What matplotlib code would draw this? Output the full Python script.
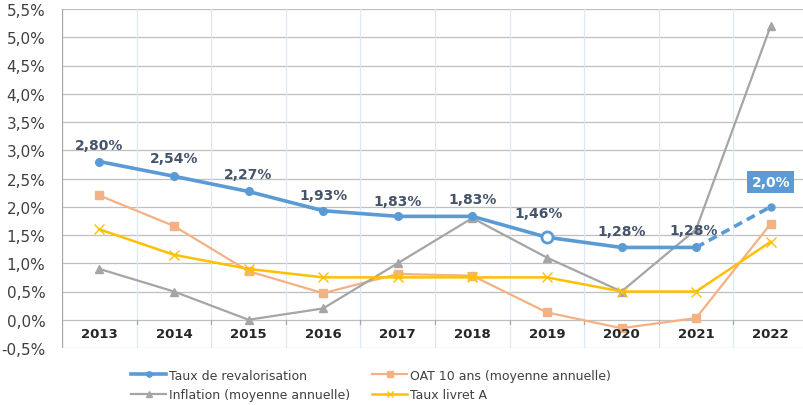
"""Taux de revalorisation vs OAT 10 ans, inflation et livret A, 2013-2022."""

import matplotlib.pyplot as plt
from matplotlib.ticker import FuncFormatter

years = [2013, 2014, 2015, 2016, 2017, 2018, 2019, 2020, 2021, 2022]
revalo = [2.80, 2.54, 2.27, 1.93, 1.83, 1.83, 1.46, 1.28, 1.28, 2.0]
revalo_labels = ["2,80%", "2,54%", "2,27%", "1,93%", "1,83%", "1,83%", "1,46%", "1,28%", "1,28%"]
oat = [2.20, 1.66, 0.86, 0.47, 0.81, 0.78, 0.13, -0.15, 0.03, 1.70]
inflation = [0.9, 0.5, 0.0, 0.2, 1.0, 1.8, 1.1, 0.5, 1.6, 5.2]
livret_a = [1.6, 1.15, 0.9, 0.75, 0.75, 0.75, 0.75, 0.5, 0.5, 1.38]

BLUE = "#5B9BD5"
ORANGE = "#F4B183"
GREY = "#A5A5A5"
YELLOW = "#FFC000"
LABEL = "#44546A"


def main():
    fig = plt.figure(figsize=(8.04, 4.06), dpi=100)
    ax = fig.add_axes([62 / 804, 57 / 406, 746 / 804, 339 / 406])
    x = list(range(len(years)))

    # grid: grey horizontal, light blue vertical between categories
    for v in [i * 0.5 for i in range(-1, 12)]:
        ax.axhline(v, color="#BFBFBF", lw=0.9, zorder=0)
    for b in range(len(years) + 1):
        ax.axvline(b - 0.5, color="#DAE8F7", lw=0.9, zorder=0)
    ax.axvline(-0.5, color="#A6A6A6", lw=0.9, zorder=1)
    for b in range(1, len(years)):
        ax.plot([b - 0.5, b - 0.5], [0, -0.08], color="#A6A6A6", lw=0.9, zorder=1)

    ax.plot(x, oat, color=ORANGE, lw=1.6, marker="s", ms=5.5, zorder=3,
            label="OAT 10 ans (moyenne annuelle)")
    ax.plot(x, inflation, color=GREY, lw=1.6, marker="^", ms=5.5, zorder=3,
            label="Inflation (moyenne annuelle)")
    ax.plot(x, livret_a, color=YELLOW, lw=1.8, marker="x", ms=6.5, mew=1.0, zorder=3,
            label="Taux livret A")

    ax.plot(x[:9], revalo[:9], color=BLUE, lw=2.6, marker="o", ms=5.5, zorder=4,
            label="Taux de revalorisation")
    ax.plot(x[6], revalo[6], marker="o", ms=8, mfc="white", mec=BLUE, mew=2, zorder=5)
    ax.plot(x[8:], revalo[8:], color=BLUE, lw=2.6, ls=(0, (2.5, 1.5)), zorder=4)
    ax.plot(x[9], revalo[9], marker="o", ms=5, color=BLUE, zorder=4)

    offsets = [(0, 17), (0, 18), (0, 17), (0, 16), (0, 15), (0, 17), (-8, 24), (0, 16), (-2, 17)]
    for i, (lab, off) in enumerate(zip(revalo_labels, offsets)):
        ax.annotate(lab, (x[i], revalo[i]), xytext=off, textcoords="offset pixels",
                    ha="center", va="center", fontsize=10, fontweight="bold",
                    color=LABEL, zorder=6)
    ax.annotate("2,0%", (x[9], revalo[9]), xytext=(0, 25), textcoords="offset pixels",
                ha="center", va="center", fontsize=10, fontweight="bold", color="white",
                bbox=dict(boxstyle="square,pad=0.3", fc=BLUE, ec="none"), zorder=6)

    ax.set_xlim(-0.5, len(years) - 0.5)
    ax.set_ylim(-0.5, 5.5)
    ax.set_yticks([i * 0.5 for i in range(-1, 12)])
    ax.yaxis.set_major_formatter(FuncFormatter(lambda v, p: f"{v:.1f}%".replace(".", ",")))
    ax.tick_params(axis="y", length=0, labelsize=11, colors="#404040", pad=12)
    ax.set_xticks([])
    for i, yr in enumerate(years):
        ax.text(x[i], -0.25, str(yr), ha="center", va="center", fontsize=9.5,
                fontweight="bold", color="#262626")
    for s in ax.spines.values():
        s.set_visible(False)

    h, l = ax.get_legend_handles_labels()
    order = [3, 1, 0, 2]
    fig.legend([h[i] for i in order], [l[i] for i in order], ncol=2, frameon=False,
               loc="center left", bbox_to_anchor=(120 / 804, 20 / 406), fontsize=9,
               handlelength=2.8, handletextpad=0.2, columnspacing=1.8,
               labelspacing=0.55, markerscale=0.7, labelcolor="#404040")

    fig.savefig("out.png", dpi=100)
    plt.close(fig)


if __name__ == "__main__":
    main()
